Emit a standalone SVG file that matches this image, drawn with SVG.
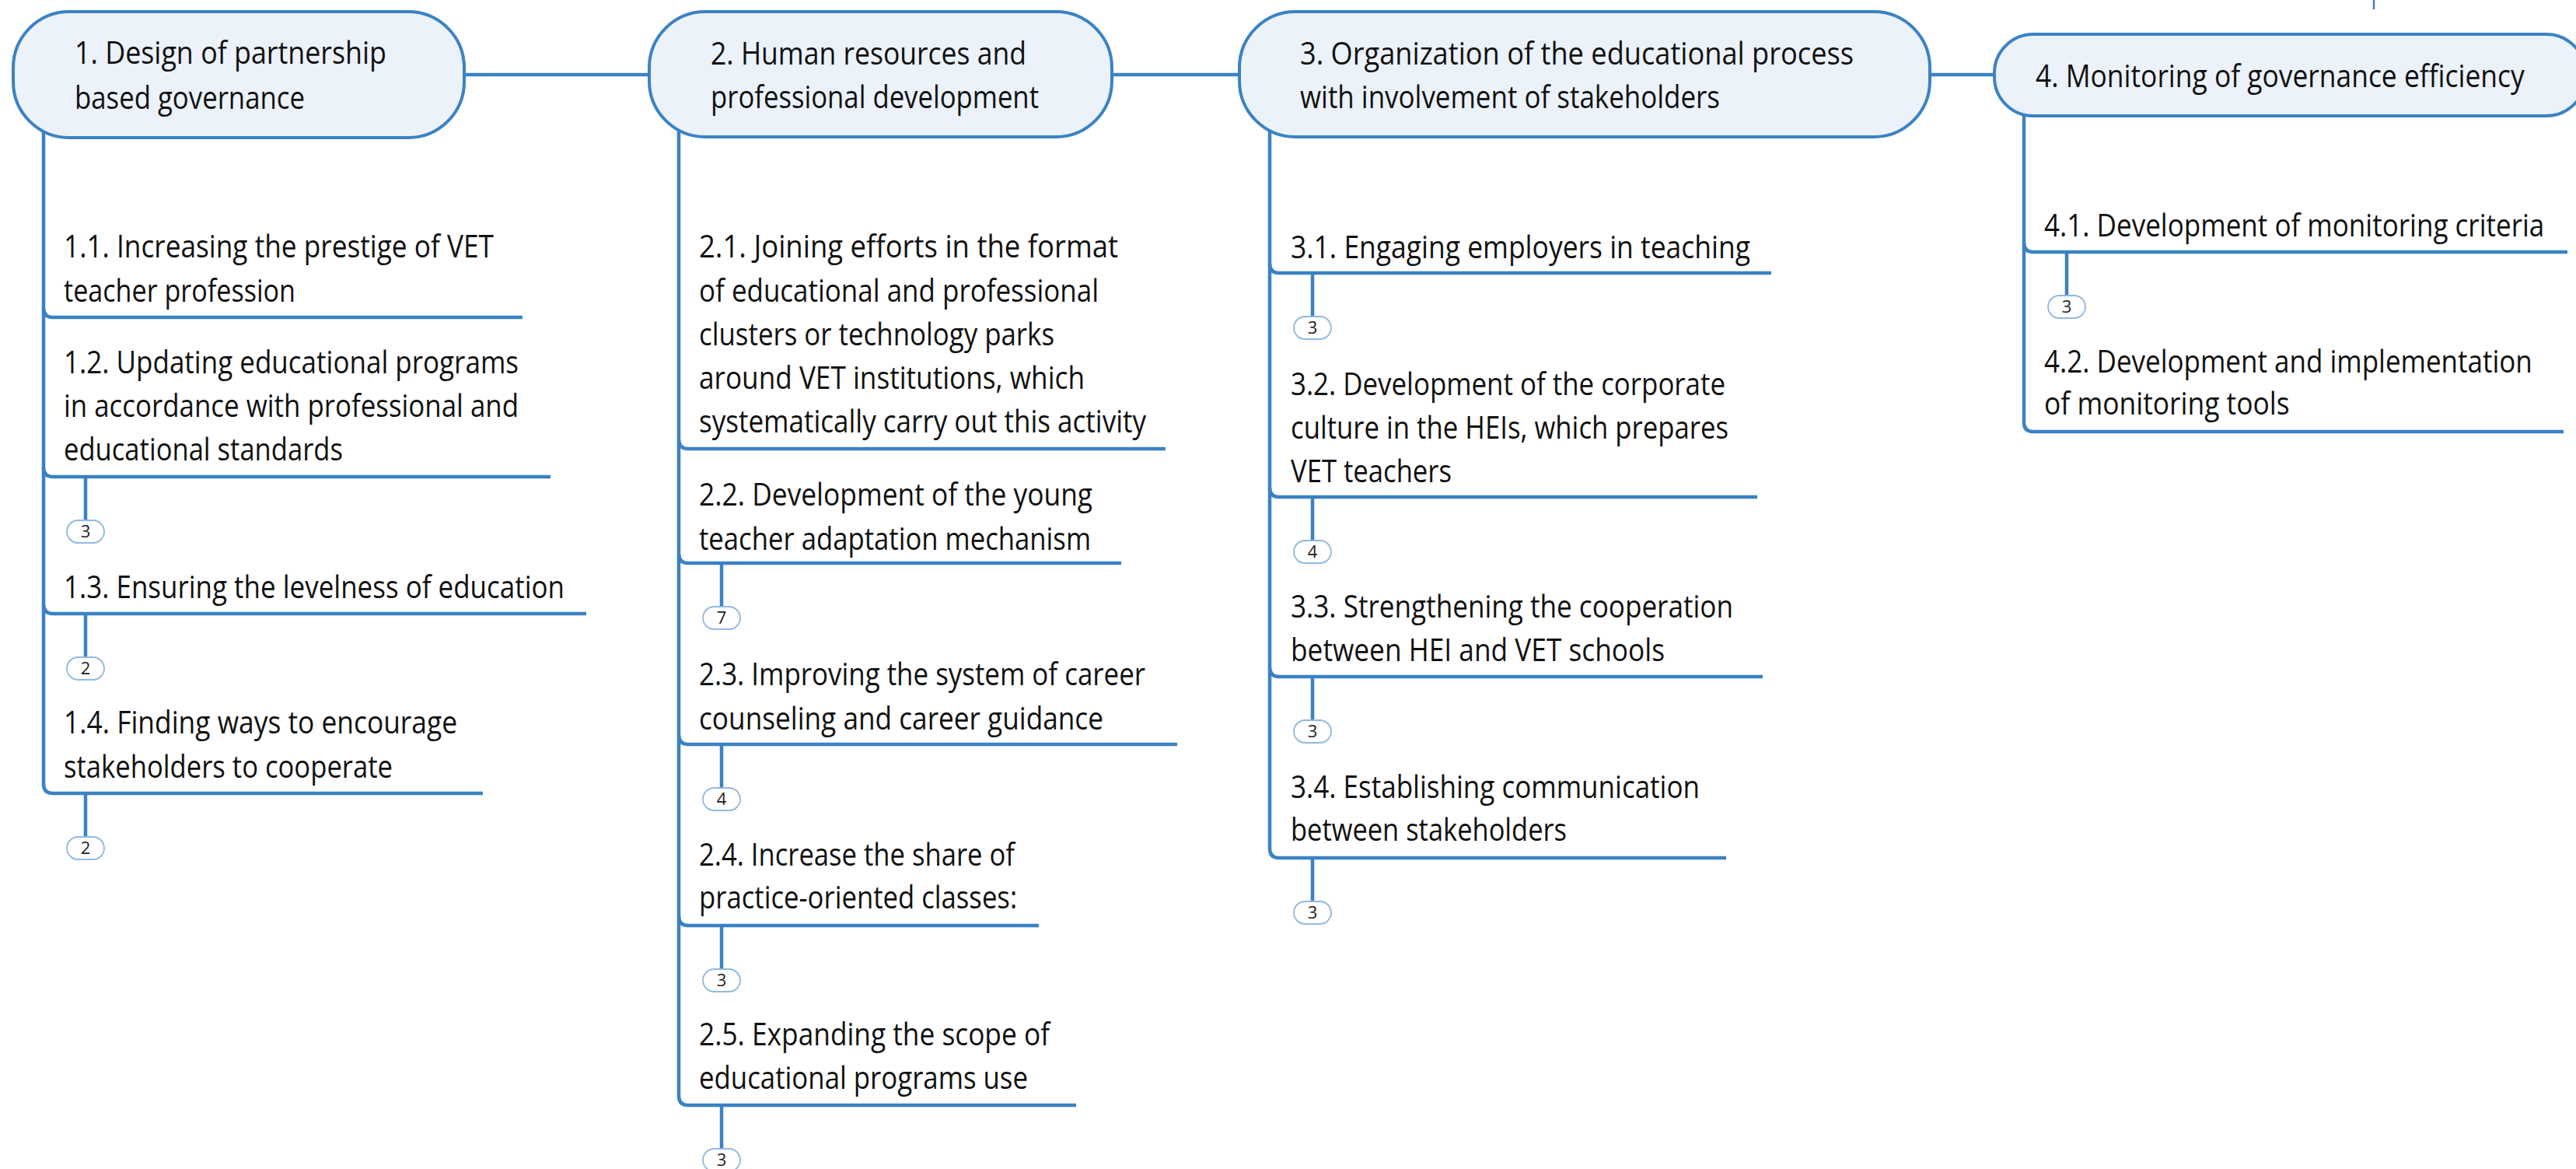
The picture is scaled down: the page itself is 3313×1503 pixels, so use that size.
<svg xmlns="http://www.w3.org/2000/svg" width="3313" height="1503" viewBox="0 0 3313 1503">
  <style>
    .bg { fill: #ffffff; }
    .conn { fill: none; stroke: #3b82c4; stroke-width: 4.5; stroke-linecap: butt; stroke-linejoin: round; }
    .tick { fill: none; stroke: #3b82c4; stroke-width: 2.5; }
    .main rect { fill: #ebf2f9; stroke: #3b82c4; stroke-width: 4; }
    .t { font-family: "Open Sans", "Noto Sans", "Liberation Sans", sans-serif; font-size: 40px; fill: #111111; }
    .badge rect { fill: #ffffff; stroke: #8fb9e1; stroke-width: 1.8; }
    .badge text { font-family: "Open Sans", "Noto Sans", "Liberation Sans", sans-serif; font-size: 22px; fill: #222222; text-anchor: middle; }
  </style>

  <rect class="bg" x="0" y="0" width="3313" height="1503"/>

  <!-- connectors: links between main topics, trunks, underlines and stems -->
  <g id="connectors">
    <path class="conn" d="M580 96 H850"/>
    <path class="conn" d="M1410 96 H1610"/>
    <path class="conn" d="M2460 96 H2580"/>
    <path class="tick" d="M3053 0 V12"/>

    <!-- branch 1 -->
    <path class="conn" d="M56 150 V1008 Q56 1020 68 1020 H621"/>
    <path class="conn" d="M56 396 Q56 408 68 408 H672"/>
    <path class="conn" d="M56 601 Q56 613 68 613 H708"/>
    <path class="conn" d="M56 777 Q56 789 68 789 H754"/>
    <path class="conn" d="M110 613 V669 M110 789 V845 M110 1020 V1076"/>

    <!-- branch 2 -->
    <path class="conn" d="M873 150 V1409 Q873 1421 885 1421 H1384"/>
    <path class="conn" d="M873 565 Q873 577 885 577 H1499"/>
    <path class="conn" d="M873 712 Q873 724 885 724 H1442"/>
    <path class="conn" d="M873 945 Q873 957 885 957 H1514"/>
    <path class="conn" d="M873 1178 Q873 1190 885 1190 H1336"/>
    <path class="conn" d="M928 724 V780 M928 957 V1013 M928 1190 V1246 M928 1421 V1477"/>

    <!-- branch 3 -->
    <path class="conn" d="M1633 150 V1091 Q1633 1103 1645 1103 H2220"/>
    <path class="conn" d="M1633 339 Q1633 351 1645 351 H2278"/>
    <path class="conn" d="M1633 627 Q1633 639 1645 639 H2260"/>
    <path class="conn" d="M1633 858 Q1633 870 1645 870 H2267"/>
    <path class="conn" d="M1688 351 V407 M1688 639 V695 M1688 870 V926 M1688 1103 V1159"/>

    <!-- branch 4 -->
    <path class="conn" d="M2603 130 V543 Q2603 555 2615 555 H3297"/>
    <path class="conn" d="M2603 312 Q2603 324 2615 324 H3302"/>
    <path class="conn" d="M2658 324 V380"/>
  </g>

  <!-- main topics -->
  <g id="n1" class="main">
    <rect x="17" y="15" width="580" height="162" rx="72" ry="72"/>
    <text class="t" x="96" y="82" textLength="401" lengthAdjust="spacingAndGlyphs">1. Design of partnership</text>
    <text class="t" x="96" y="140" textLength="296" lengthAdjust="spacingAndGlyphs">based governance</text>
  </g>
  <g id="n2" class="main">
    <rect x="835" y="15" width="595" height="161" rx="72" ry="72"/>
    <text class="t" x="914" y="83" textLength="406" lengthAdjust="spacingAndGlyphs">2. Human resources and</text>
    <text class="t" x="914" y="139" textLength="422" lengthAdjust="spacingAndGlyphs">professional development</text>
  </g>
  <g id="n3" class="main">
    <rect x="1594" y="15" width="888" height="161" rx="72" ry="72"/>
    <text class="t" x="1672" y="83" textLength="712" lengthAdjust="spacingAndGlyphs">3. Organization of the educational process</text>
    <text class="t" x="1672" y="139" textLength="540" lengthAdjust="spacingAndGlyphs">with involvement of stakeholders</text>
  </g>
  <g id="n4" class="main">
    <rect x="2565" y="44" width="760" height="105" rx="50" ry="50"/>
    <g transform="translate(2618 0) scale(0.86 1)">
      <text class="t" x="0" y="112" textLength="731" lengthAdjust="spacingAndGlyphs">4. Monitoring of governance efficiency</text>
    </g>
  </g>

  <!-- branch 1 subtopics -->
  <g id="n1-1">
    <text class="t" x="82" y="331" textLength="553" lengthAdjust="spacingAndGlyphs">1.1. Increasing the prestige of VET</text>
    <text class="t" x="82" y="388" textLength="298" lengthAdjust="spacingAndGlyphs">teacher profession</text>
  </g>
  <g id="n1-2">
    <text class="t" x="82" y="480" textLength="585" lengthAdjust="spacingAndGlyphs">1.2. Updating educational programs</text>
    <text class="t" x="82" y="536" textLength="585" lengthAdjust="spacingAndGlyphs">in accordance with professional and</text>
    <text class="t" x="82" y="592" textLength="359" lengthAdjust="spacingAndGlyphs">educational standards</text>
    <g class="badge"><rect x="86" y="669" width="48" height="29" rx="14.5"/><text x="110" y="691">3</text></g>
  </g>
  <g id="n1-3">
    <text class="t" x="82" y="769" textLength="644" lengthAdjust="spacingAndGlyphs">1.3. Ensuring the levelness of education</text>
    <g class="badge"><rect x="86" y="845" width="48" height="29" rx="14.5"/><text x="110" y="867">2</text></g>
  </g>
  <g id="n1-4">
    <text class="t" x="82" y="943" textLength="506" lengthAdjust="spacingAndGlyphs">1.4. Finding ways to encourage</text>
    <text class="t" x="82" y="1000" textLength="423" lengthAdjust="spacingAndGlyphs">stakeholders to cooperate</text>
    <g class="badge"><rect x="86" y="1076" width="48" height="29" rx="14.5"/><text x="110" y="1098">2</text></g>
  </g>

  <!-- branch 2 subtopics -->
  <g id="n2-1">
    <text class="t" x="899" y="331" textLength="539" lengthAdjust="spacingAndGlyphs">2.1. Joining efforts in the format</text>
    <text class="t" x="899" y="388" textLength="514" lengthAdjust="spacingAndGlyphs">of educational and professional</text>
    <text class="t" x="899" y="444" textLength="457" lengthAdjust="spacingAndGlyphs">clusters or technology parks</text>
    <text class="t" x="899" y="500" textLength="496" lengthAdjust="spacingAndGlyphs">around VET institutions, which</text>
    <text class="t" x="899" y="556" textLength="575" lengthAdjust="spacingAndGlyphs">systematically carry out this activity</text>
  </g>
  <g id="n2-2">
    <text class="t" x="899" y="650" textLength="506" lengthAdjust="spacingAndGlyphs">2.2. Development of the young</text>
    <text class="t" x="899" y="707" textLength="504" lengthAdjust="spacingAndGlyphs">teacher adaptation mechanism</text>
    <g class="badge"><rect x="904" y="780" width="48" height="29" rx="14.5"/><text x="928" y="802">7</text></g>
  </g>
  <g id="n2-3">
    <text class="t" x="899" y="881" textLength="574" lengthAdjust="spacingAndGlyphs">2.3. Improving the system of career</text>
    <text class="t" x="899" y="938" textLength="520" lengthAdjust="spacingAndGlyphs">counseling and career guidance</text>
    <g class="badge"><rect x="904" y="1013" width="48" height="29" rx="14.5"/><text x="928" y="1035">4</text></g>
  </g>
  <g id="n2-4">
    <text class="t" x="899" y="1113" textLength="406" lengthAdjust="spacingAndGlyphs">2.4. Increase the share of</text>
    <text class="t" x="899" y="1168" textLength="409" lengthAdjust="spacingAndGlyphs">practice-oriented classes:</text>
    <g class="badge"><rect x="904" y="1246" width="48" height="29" rx="14.5"/><text x="928" y="1268">3</text></g>
  </g>
  <g id="n2-5">
    <text class="t" x="899" y="1344" textLength="451" lengthAdjust="spacingAndGlyphs">2.5. Expanding the scope of</text>
    <text class="t" x="899" y="1400" textLength="423" lengthAdjust="spacingAndGlyphs">educational programs use</text>
    <g class="badge"><rect x="904" y="1477" width="48" height="29" rx="14.5"/><text x="928" y="1499">3</text></g>
  </g>

  <!-- branch 3 subtopics -->
  <g id="n3-1">
    <text class="t" x="1660" y="332" textLength="591" lengthAdjust="spacingAndGlyphs">3.1. Engaging employers in teaching</text>
    <g class="badge"><rect x="1664" y="407" width="48" height="29" rx="14.5"/><text x="1688" y="429">3</text></g>
  </g>
  <g id="n3-2">
    <text class="t" x="1660" y="508" textLength="559" lengthAdjust="spacingAndGlyphs">3.2. Development of the corporate</text>
    <text class="t" x="1660" y="564" textLength="563" lengthAdjust="spacingAndGlyphs">culture in the HEIs, which prepares</text>
    <text class="t" x="1660" y="620" textLength="207" lengthAdjust="spacingAndGlyphs">VET teachers</text>
    <g class="badge"><rect x="1664" y="695" width="48" height="29" rx="14.5"/><text x="1688" y="717">4</text></g>
  </g>
  <g id="n3-3">
    <text class="t" x="1660" y="794" textLength="569" lengthAdjust="spacingAndGlyphs">3.3. Strengthening the cooperation</text>
    <text class="t" x="1660" y="850" textLength="481" lengthAdjust="spacingAndGlyphs">between HEI and VET schools</text>
    <g class="badge"><rect x="1664" y="926" width="48" height="29" rx="14.5"/><text x="1688" y="948">3</text></g>
  </g>
  <g id="n3-4">
    <text class="t" x="1660" y="1026" textLength="526" lengthAdjust="spacingAndGlyphs">3.4. Establishing communication</text>
    <text class="t" x="1660" y="1081" textLength="355" lengthAdjust="spacingAndGlyphs">between stakeholders</text>
    <g class="badge"><rect x="1664" y="1159" width="48" height="29" rx="14.5"/><text x="1688" y="1181">3</text></g>
  </g>

  <!-- branch 4 subtopics (narrowed to keep the lines inside the right margin) -->
  <g id="n4-1">
    <g transform="translate(2629 0) scale(0.86 1)">
      <text class="t" x="0" y="304" textLength="748" lengthAdjust="spacingAndGlyphs">4.1. Development of monitoring criteria</text>
    </g>
    <g class="badge"><rect x="2634" y="380" width="48" height="29" rx="14.5"/><text x="2658" y="402">3</text></g>
  </g>
  <g id="n4-2">
    <g transform="translate(2629 0) scale(0.86 1)">
      <text class="t" x="0" y="479" textLength="730" lengthAdjust="spacingAndGlyphs">4.2. Development and implementation</text>
      <text class="t" x="0" y="533" textLength="367" lengthAdjust="spacingAndGlyphs">of monitoring tools</text>
    </g>
  </g>
</svg>
